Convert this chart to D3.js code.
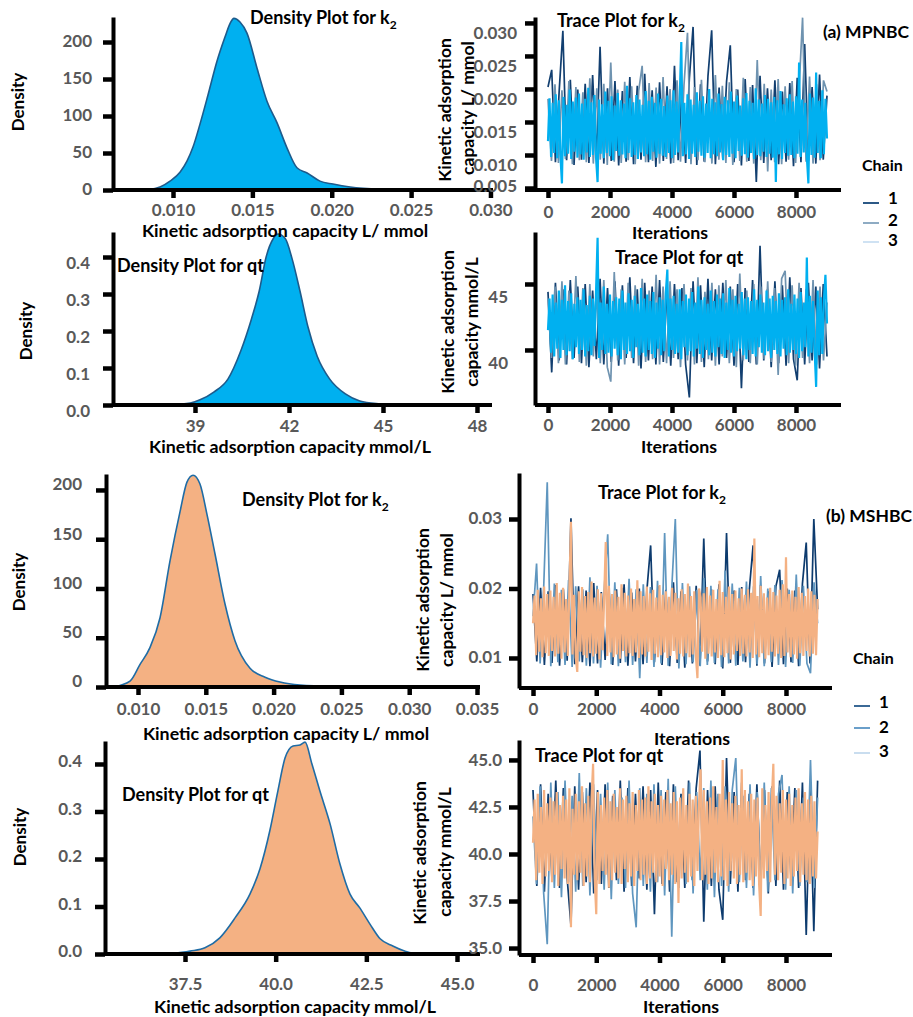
<!DOCTYPE html>
<html>
<head>
<meta charset="utf-8">
<script src="https://cdn.jsdelivr.net/npm/d3@7"></script>
<style>
  body { margin: 0; background: #fff; }
  svg { display: block; }
</style>
</head>
<body>
<svg id="chart" width="913" height="1017"></svg>
<script>
// ---------- Posterior density curves: (value, density) ----------
const densK2A_x = [0.00622, 0.00855, 0.00918, 0.00981, 0.01044, 0.01088, 0.01126, 0.0117, 0.0122, 0.01277, 0.01328, 0.01359, 0.01384, 0.01422, 0.01466, 0.01529, 0.01592, 0.01655, 0.01718, 0.01781, 0.01845, 0.01926, 0.02008, 0.02116, 0.02305, 0.02544];
const densK2A_y = [0, 1, 4, 12, 24, 39, 58, 89, 128, 174, 207, 225, 232, 227, 212, 165, 120, 91, 57, 30, 23, 12, 8, 4, 1, 0];

const densQtA_x = [38.2, 38.85, 39.16, 39.6, 40.05, 40.46, 40.8, 41.05, 41.27, 41.5, 41.65, 41.88, 42.1, 42.35, 42.6, 42.9, 43.3, 43.8, 44.26, 44.9, 45.55];
const densQtA_y = [0, 0.005, 0.014, 0.035, 0.07, 0.146, 0.232, 0.308, 0.40, 0.45, 0.462, 0.45, 0.395, 0.308, 0.213, 0.132, 0.07, 0.03, 0.011, 0.003, 0];

const densK2B_x = [0.00816, 0.00941, 0.01015, 0.01088, 0.01162, 0.01236, 0.0131, 0.01361, 0.01406, 0.01457, 0.01509, 0.01568, 0.01642, 0.01715, 0.01826, 0.01937, 0.02047, 0.02195, 0.0249, 0.02785];
const densK2B_y = [0, 6, 23, 40, 70, 128, 178, 208, 215, 206, 175, 135, 84, 47, 19, 10, 5, 2, 0.5, 0];

const densQtB_x = [37.09, 37.64, 38.05, 38.46, 38.88, 39.29, 39.57, 39.84, 40.06, 40.26, 40.48, 40.67, 40.81, 41.0, 41.22, 41.5, 41.77, 42.05, 42.32, 42.6, 42.88, 43.23, 43.57, 43.98, 44.39];
const densQtB_y = [0, 0.006, 0.013, 0.034, 0.076, 0.126, 0.18, 0.26, 0.343, 0.413, 0.438, 0.44, 0.446, 0.40, 0.343, 0.274, 0.19, 0.126, 0.097, 0.063, 0.032, 0.017, 0.006, 0, 0];

// ---------- MCMC trace chains (evenly spaced draws over 0..9000 iterations) ----------
const iterMax = 9000;
const chainLabels = ["1", "2", "3"];

const traceK2A_chain1 = [0.0203, 0.0229, 0.0089, 0.0196, 0.0288, 0.0092, 0.0214, 0.0085, 0.0199, 0.0093,
 0.0208, 0.0088, 0.0221, 0.0094, 0.0264, 0.0087, 0.0201, 0.0091, 0.0212, 0.0084,
 0.0197, 0.0090, 0.0218, 0.0086, 0.0205, 0.0093, 0.0223, 0.0089, 0.0198, 0.0082,
 0.0210, 0.0091, 0.0204, 0.0087, 0.0235, 0.0092, 0.0200, 0.0088, 0.0216, 0.0294,
 0.0085, 0.0207, 0.0090, 0.0219, 0.0289, 0.0086, 0.0202, 0.0093, 0.0211, 0.0266,
 0.0089, 0.0199, 0.0084, 0.0215, 0.0091, 0.0206, 0.0059, 0.0220, 0.0088, 0.0201,
 0.0092, 0.0213, 0.0086, 0.0196, 0.0090, 0.0209, 0.0083, 0.0217, 0.0089, 0.0268,
 0.0091, 0.0203, 0.0087, 0.0222, 0.0093, 0.0190];
const traceK2A_chain2 = [0.0185, 0.0091, 0.0207, 0.0088, 0.0198, 0.0094, 0.0212, 0.0086, 0.0203, 0.0092,
 0.0195, 0.0089, 0.0216, 0.0087, 0.0201, 0.0093, 0.0208, 0.0085, 0.0240, 0.0090,
 0.0199, 0.0088, 0.0211, 0.0092, 0.0204, 0.0086, 0.0197, 0.0235, 0.0089, 0.0209,
 0.0091, 0.0202, 0.0087, 0.0218, 0.0094, 0.0200, 0.0088, 0.0213, 0.0090, 0.0206,
 0.0285, 0.0086, 0.0203, 0.0092, 0.0214, 0.0089, 0.0198, 0.0087, 0.0221, 0.0093,
 0.0205, 0.0088, 0.0210, 0.0085, 0.0200, 0.0091, 0.0217, 0.0090, 0.0203, 0.0087,
 0.0244, 0.0092, 0.0208, 0.0075, 0.0199, 0.0089, 0.0215, 0.0086, 0.0204, 0.0093,
 0.0212, 0.0088, 0.0201, 0.0308, 0.0090, 0.0219, 0.0087, 0.0207, 0.0092, 0.0213,
 0.0196];
const traceK2A_chain3 = [0.0121, 0.0186, 0.0097, 0.0179, 0.0103, 0.0192, 0.0095, 0.0183, 0.0100, 0.0057,
 0.0188, 0.0098, 0.0176, 0.0102, 0.0199, 0.0094, 0.0181, 0.0105, 0.0187, 0.0096,
 0.0193, 0.0101, 0.0178, 0.0093, 0.0185, 0.0104, 0.0202, 0.0097, 0.0180, 0.0100,
 0.0191, 0.0096, 0.0059, 0.0184, 0.0102, 0.0177, 0.0095, 0.0196, 0.0103, 0.0182,
 0.0098, 0.0189, 0.0092, 0.0175, 0.0106, 0.0194, 0.0099, 0.0183, 0.0101, 0.0178,
 0.0095, 0.0205, 0.0103, 0.0186, 0.0097, 0.0180, 0.0100, 0.0191, 0.0094, 0.0184,
 0.0104, 0.0176, 0.0098, 0.0197, 0.0101, 0.0182, 0.0093, 0.0188, 0.0105, 0.0179,
 0.0096, 0.0193, 0.0102, 0.0185, 0.0099, 0.0174, 0.0097, 0.0190, 0.0103, 0.0183,
 0.0095, 0.0198, 0.0100, 0.0181, 0.0104, 0.0187, 0.0271, 0.0098, 0.0179, 0.0101,
 0.0192, 0.0094, 0.0184, 0.0102, 0.0176, 0.0097, 0.0195, 0.0105, 0.0182, 0.0099,
 0.0189, 0.0096, 0.0178, 0.0103, 0.0200, 0.0095, 0.0185, 0.0101, 0.0180, 0.0098,
 0.0193, 0.0104, 0.0177, 0.0092, 0.0188, 0.0100, 0.0183, 0.0097, 0.0196, 0.0102,
 0.0181, 0.0095, 0.0190, 0.0106, 0.0175, 0.0099, 0.0186, 0.0101, 0.0194, 0.0096,
 0.0182, 0.0103, 0.0179, 0.0094, 0.0201, 0.0100, 0.0184, 0.0098, 0.0178, 0.0105,
 0.0191, 0.0097, 0.0185, 0.0102, 0.0180, 0.0096, 0.0188, 0.0059, 0.0183, 0.0101,
 0.0197, 0.0094, 0.0177, 0.0103, 0.0186, 0.0099, 0.0192, 0.0100, 0.0181, 0.0095,
 0.0189, 0.0102, 0.0240, 0.0097, 0.0184, 0.0104, 0.0179, 0.0098, 0.0057, 0.0193,
 0.0100, 0.0187, 0.0096, 0.0225, 0.0103, 0.0182, 0.0095, 0.0198, 0.0101, 0.0185,
 0.0125];

const traceQtA_chain1 = [44.4, 38.3, 45.1, 39.2, 44.6, 38.9, 45.3, 39.4, 44.8, 39.0,
 45.0, 38.7, 44.5, 39.3, 45.4, 38.9, 44.7, 39.1, 45.2, 38.8,
 44.9, 39.4, 45.5, 39.0, 44.6, 38.6, 45.1, 39.2, 44.8, 38.9,
 45.3, 39.1, 44.5, 38.8, 45.0, 39.3, 44.7, 38.9, 36.4, 45.2,
 39.0, 44.9, 38.7, 45.4, 39.2, 44.6, 38.9, 45.1, 39.4, 44.8,
 38.8, 45.0, 37.1, 44.7, 39.1, 45.3, 38.9, 47.9, 39.2, 44.6,
 38.7, 45.2, 39.0, 44.9, 38.8, 45.5, 39.3, 37.7, 44.7, 38.9,
 45.1, 39.2, 44.8, 38.6, 45.0, 39.5];
const traceQtA_chain2 = [43.9, 39.4, 44.8, 39.0, 45.2, 38.9, 44.5, 39.3, 45.6, 39.1,
 44.7, 38.8, 45.0, 39.5, 44.4, 39.0, 45.3, 38.7, 37.6, 45.9,
 39.2, 44.6, 38.9, 45.1, 39.4, 44.9, 38.8, 45.4, 39.1, 44.5,
 39.3, 45.7, 38.9, 44.8, 39.0, 45.2, 39.4, 44.6, 38.7, 45.0,
 39.2, 44.7, 38.9, 45.5, 39.1, 44.4, 39.3, 45.1, 38.8, 44.9,
 39.5, 45.3, 39.0, 44.6, 38.7, 45.8, 39.2, 44.5, 39.0, 45.0,
 38.9, 44.8, 39.3, 45.2, 39.1, 44.7, 38.1, 45.4, 46.0, 39.0,
 44.9, 38.8, 45.1, 39.4, 44.6, 39.0, 45.3, 38.9, 44.8, 39.2,
 43.6];
const traceQtA_chain3 = [41.5, 43.9, 39.8, 44.2, 39.5, 43.6, 40.1, 44.5, 39.4, 43.8,
 40.0, 44.9, 39.6, 43.7, 39.9, 44.3, 39.3, 43.5, 40.2, 44.0,
 39.7, 43.8, 40.0, 44.6, 39.5, 43.4, 39.9, 44.1, 39.6, 43.9,
 40.3, 44.4, 48.5, 39.4, 43.6, 40.0, 44.8, 39.7, 43.5, 39.8,
 44.2, 39.5, 43.7, 40.1, 44.0, 39.6, 43.9, 39.3, 44.5, 40.0,
 43.6, 39.7, 44.3, 39.9, 43.8, 39.4, 44.1, 40.2, 43.5, 39.6,
 44.7, 39.8, 43.9, 39.5, 44.2, 40.0, 43.7, 39.7, 44.4, 39.4,
 43.6, 40.1, 44.0, 39.6, 43.8, 39.9, 44.3, 46.1, 39.5, 43.9,
 40.0, 44.1, 39.7, 43.5, 39.8, 44.6, 39.3, 43.7, 40.2, 44.2,
 39.6, 43.9, 39.9, 44.4, 39.5, 43.6, 40.1, 44.8, 39.7, 43.8,
 39.4, 44.0, 40.0, 43.5, 39.6, 44.5, 39.8, 43.7, 39.5, 44.2,
 40.2, 43.9, 39.7, 44.3, 39.4, 43.6, 40.0, 44.7, 39.8, 43.8,
 39.5, 44.1, 39.9, 43.5, 40.1, 44.4, 39.6, 43.9, 39.3, 44.0,
 40.0, 43.7, 39.7, 44.6, 39.5, 43.8, 40.2, 44.2, 39.8, 43.6,
 39.6, 44.5, 39.9, 43.9, 39.4, 44.1, 40.0, 43.7, 39.7, 44.3,
 39.5, 43.8, 40.1, 44.0, 39.6, 44.6, 39.8, 43.5, 40.0, 44.2,
 39.7, 43.9, 39.4, 44.4, 39.9, 43.6, 40.2, 47.0, 39.5, 44.1,
 39.8, 43.7, 40.0, 37.2, 44.5, 39.6, 44.0, 39.7, 43.8, 45.7,
 42.0];

const traceK2B_chain1 = [0.0192, 0.0095, 0.0201, 0.0090, 0.0196, 0.0093, 0.0205, 0.0089, 0.0199, 0.0096,
 0.0301, 0.0091, 0.0203, 0.0094, 0.0197, 0.0088, 0.0208, 0.0092, 0.0195, 0.0097,
 0.0202, 0.0090, 0.0199, 0.0093, 0.0206, 0.0089, 0.0194, 0.0095, 0.0200, 0.0091,
 0.0197, 0.0262, 0.0094, 0.0203, 0.0090, 0.0198, 0.0088, 0.0209, 0.0093, 0.0196,
 0.0086, 0.0201, 0.0092, 0.0204, 0.0089, 0.0272, 0.0095, 0.0199, 0.0091, 0.0206,
 0.0085, 0.0280, 0.0093, 0.0197, 0.0090, 0.0202, 0.0094, 0.0198, 0.0262, 0.0089,
 0.0205, 0.0092, 0.0196, 0.0087, 0.0203, 0.0227, 0.0091, 0.0200, 0.0094, 0.0197,
 0.0088, 0.0207, 0.0266, 0.0092, 0.0300, 0.0170];
const traceK2B_chain2 = [0.0160, 0.0236, 0.0092, 0.0201, 0.0353, 0.0088, 0.0207, 0.0094, 0.0198, 0.0090,
 0.0212, 0.0087, 0.0203, 0.0095, 0.0199, 0.0089, 0.0216, 0.0092, 0.0204, 0.0086,
 0.0197, 0.0278, 0.0091, 0.0209, 0.0088, 0.0201, 0.0094, 0.0214, 0.0090, 0.0199,
 0.0071, 0.0206, 0.0093, 0.0202, 0.0087, 0.0211, 0.0092, 0.0280, 0.0089, 0.0200,
 0.0300, 0.0085, 0.0208, 0.0091, 0.0203, 0.0094, 0.0198, 0.0088, 0.0215, 0.0090,
 0.0204, 0.0093, 0.0199, 0.0087, 0.0226, 0.0092, 0.0207, 0.0089, 0.0201, 0.0095,
 0.0210, 0.0086, 0.0203, 0.0091, 0.0218, 0.0088, 0.0200, 0.0094, 0.0205, 0.0090,
 0.0212, 0.0087, 0.0198, 0.0093, 0.0220, 0.0089, 0.0204, 0.0092, 0.0078, 0.0209,
 0.0150];
const traceK2B_chain3 = [0.0150, 0.0190, 0.0104, 0.0198, 0.0109, 0.0186, 0.0101, 0.0203, 0.0107, 0.0192,
 0.0103, 0.0197, 0.0110, 0.0188, 0.0102, 0.0208, 0.0106, 0.0194, 0.0099, 0.0201,
 0.0108, 0.0185, 0.0103, 0.0199, 0.0296, 0.0105, 0.0191, 0.0101, 0.0080, 0.0196,
 0.0109, 0.0202, 0.0104, 0.0189, 0.0100, 0.0195, 0.0107, 0.0210, 0.0102, 0.0187,
 0.0106, 0.0199, 0.0098, 0.0193, 0.0111, 0.0186, 0.0267, 0.0103, 0.0204, 0.0108,
 0.0192, 0.0101, 0.0197, 0.0105, 0.0188, 0.0099, 0.0206, 0.0110, 0.0194, 0.0102,
 0.0190, 0.0107, 0.0200, 0.0103, 0.0185, 0.0108, 0.0212, 0.0100, 0.0196, 0.0105,
 0.0189, 0.0102, 0.0203, 0.0109, 0.0193, 0.0097, 0.0198, 0.0106, 0.0187, 0.0101,
 0.0205, 0.0104, 0.0191, 0.0108, 0.0196, 0.0100, 0.0188, 0.0103, 0.0201, 0.0110,
 0.0194, 0.0098, 0.0186, 0.0106, 0.0199, 0.0102, 0.0192, 0.0107, 0.0207, 0.0101,
 0.0189, 0.0105, 0.0196, 0.0103, 0.0071, 0.0200, 0.0187, 0.0109, 0.0193, 0.0099,
 0.0202, 0.0106, 0.0190, 0.0102, 0.0198, 0.0108, 0.0185, 0.0100, 0.0211, 0.0104,
 0.0195, 0.0101, 0.0188, 0.0107, 0.0203, 0.0098, 0.0192, 0.0105, 0.0197, 0.0110,
 0.0186, 0.0103, 0.0200, 0.0106, 0.0191, 0.0102, 0.0199, 0.0108, 0.0194, 0.0100,
 0.0272, 0.0105, 0.0189, 0.0101, 0.0204, 0.0107, 0.0193, 0.0099, 0.0187, 0.0104,
 0.0201, 0.0109, 0.0195, 0.0102, 0.0190, 0.0106, 0.0198, 0.0100, 0.0206, 0.0103,
 0.0245, 0.0108, 0.0192, 0.0101, 0.0197, 0.0105, 0.0188, 0.0099, 0.0202, 0.0107,
 0.0194, 0.0103, 0.0189, 0.0110, 0.0200, 0.0102, 0.0196, 0.0106, 0.0191, 0.0104,
 0.0185];

const traceQtB_chain1 = [43.4, 38.3, 43.7, 38.0, 43.2, 38.6, 43.9, 38.2, 43.5, 38.7,
 36.2, 43.6, 38.1, 43.3, 38.5, 43.8, 37.9, 43.4, 38.4, 43.7,
 38.2, 43.1, 38.6, 43.9, 38.0, 43.5, 38.3, 43.2, 38.7, 43.6,
 38.1, 43.4, 36.8, 43.8, 38.4, 43.3, 38.0, 43.7, 38.5, 43.2,
 38.2, 43.9, 38.6, 43.5, 45.5, 36.4, 43.4, 38.3, 43.6, 38.1,
 36.5, 45.1, 38.4, 43.3, 38.0, 43.8, 38.6, 43.2, 38.2, 43.7,
 38.5, 43.4, 37.9, 43.6, 38.3, 43.9, 38.1, 43.3, 38.6, 43.5,
 38.2, 43.8, 35.7, 43.4, 35.9, 43.9];
const traceQtB_chain2 = [42.0, 38.4, 43.6, 37.9, 35.2, 43.8, 38.2, 43.3, 37.7, 43.9,
 38.5, 43.1, 38.0, 44.3, 38.3, 43.5, 37.8, 43.7, 38.6, 43.2,
 38.1, 43.8, 37.6, 43.4, 38.4, 43.0, 38.2, 43.9, 37.9, 36.1,
 43.5, 38.3, 43.2, 38.0, 43.7, 38.5, 43.4, 37.8, 44.0, 35.6,
 43.6, 38.2, 43.1, 38.4, 43.8, 37.9, 43.3, 38.6, 43.5, 38.1,
 43.9, 37.7, 43.2, 38.3, 43.6, 38.0, 43.4, 45.1, 38.5, 43.1,
 38.2, 43.7, 37.8, 43.3, 38.4, 43.8, 38.0, 43.5, 38.6, 43.2,
 44.2, 38.1, 43.6, 37.9, 43.4, 38.3, 43.0, 38.5, 45.0, 38.2,
 43.0];
const traceQtB_chain3 = [40.6, 42.9, 38.6, 43.2, 39.0, 42.5, 38.4, 43.4, 38.8, 42.7,
 39.1, 43.0, 38.5, 42.8, 38.9, 43.3, 38.3, 42.6, 39.2, 43.1,
 38.7, 42.9, 38.4, 43.5, 36.1, 42.4, 38.9, 43.2, 38.6, 42.8,
 39.0, 43.6, 38.3, 42.7, 38.8, 43.1, 38.5, 42.9, 44.8, 38.7,
 36.8, 43.3, 38.4, 42.6, 39.1, 43.0, 38.9, 43.4, 38.2, 42.8,
 38.6, 43.2, 39.0, 42.5, 38.7, 43.5, 38.4, 42.9, 39.2, 43.1,
 38.5, 42.7, 38.8, 43.3, 38.3, 42.6, 39.1, 43.4, 38.6, 42.9,
 38.9, 43.0, 38.4, 43.6, 38.7, 42.8, 39.0, 43.2, 38.5, 42.6,
 38.8, 43.1, 38.3, 42.9, 39.2, 43.4, 38.6, 42.7, 38.9, 43.3,
 38.4, 42.8, 37.4, 43.0, 38.7, 43.5, 39.0, 42.6, 38.5, 43.2,
 38.8, 42.9, 38.3, 43.1, 39.1, 42.7, 44.5, 38.6, 43.4, 38.9,
 42.8, 38.4, 43.0, 38.7, 43.6, 39.0, 42.5, 38.5, 43.2, 38.8,
 45.0, 38.6, 42.9, 38.3, 43.3, 39.1, 42.7, 38.7, 43.1, 38.4,
 42.6, 38.9, 44.5, 38.5, 43.4, 39.0, 42.8, 38.6, 43.2, 38.3,
 42.9, 38.8, 43.0, 38.4, 36.7, 43.5, 38.7, 42.6, 39.1, 43.3,
 38.5, 42.8, 44.8, 38.9, 43.1, 38.6, 42.7, 39.0, 43.4, 38.4,
 42.9, 38.7, 43.2, 38.3, 42.6, 38.8, 43.0, 39.1, 43.5, 38.5,
 42.7, 38.9, 43.3, 38.6, 42.9, 38.4, 43.1, 38.8, 42.8, 38.7,
 41.2];

// ---------- Tick values ----------
const ticksK2A_x = [0.010, 0.015, 0.020, 0.025, 0.030];
const ticksK2A_y = [0, 50, 100, 150, 200];
const ticksQtA_x = [39, 42, 45, 48];
const ticksQtA_y = [0.0, 0.1, 0.2, 0.3, 0.4];
const ticksIter = [0, 2000, 4000, 6000, 8000];
const ticksTraceK2A_y = [0.005, 0.010, 0.015, 0.020, 0.025, 0.030];
const ticksTraceQtA_y = [40, 45];
const ticksK2B_x = [0.010, 0.015, 0.020, 0.025, 0.030, 0.035];
const ticksK2B_y = [0, 50, 100, 150, 200];
const ticksQtB_x = [37.5, 40.0, 42.5, 45.0];
const ticksQtB_y = [0.0, 0.1, 0.2, 0.3, 0.4];
const ticksTraceK2B_y = [0.01, 0.02, 0.03];
const ticksTraceQtB_y = [35.0, 37.5, 40.0, 42.5, 45.0];

// ---------- Drawing ----------
const FONT = "Lato, 'Open Sans', 'DejaVu Sans', sans-serif";
const TICK_GRAY = "#595959";
const TICK_SIZE = 17;
const TITLE_SIZE = 18;
const LABEL_SIZE = 17.8;
const svg = d3.select("#chart").attr("font-family", FONT);
svg.append("rect").attr("width", 913).attr("height", 1017).attr("fill", "#fff");

function styleAxis(g) {
  g.attr("font-family", FONT).attr("font-size", TICK_SIZE).attr("font-weight", "bold");
  g.select(".domain").attr("stroke", "#000").attr("stroke-width", 4);
  g.selectAll(".tick line").attr("stroke", "#000").attr("stroke-width", 4.5);
  g.selectAll(".tick text").attr("fill", TICK_GRAY);
}

function drawAxes(o) {
  const { x, y } = o;
  const xa = svg.append("g")
    .attr("transform", `translate(0,${o.xAxisY})`)
    .call(d3.axisBottom(x).tickValues(o.xTicks).tickFormat(o.xFmt).tickSize(8).tickSizeOuter(0));
  styleAxis(xa);
  xa.select(".domain").attr("d", `M${o.xAxisStart ?? x.range()[0]},0H${x.range()[1]}`);
  xa.selectAll(".tick text").attr("y", o.xLabOff).attr("dy", "0.35em");
  const ya = svg.append("g")
    .attr("transform", `translate(${o.yAxisX},0)`)
    .call(d3.axisLeft(y).tickValues(o.yTicks).tickFormat(o.yFmt).tickSize(10).tickSizeOuter(0));
  styleAxis(ya);
  const dyOf = typeof o.yLabDy === "function" ? o.yLabDy : () => o.yLabDy;
  ya.selectAll(".tick text").attr("x", -o.yLabGap).attr("dy", "0.35em")
    .attr("transform", d => `translate(0,${dyOf(d)})`);
}

function title(x, y, main, sub) {
  const t = svg.append("text").attr("x", x).attr("y", y)
    .attr("font-size", TITLE_SIZE).attr("font-weight", "bold").attr("fill", "#000").text(main);
  if (sub) t.append("tspan").attr("dy", 5).attr("font-size", 12).text(sub);
}

function hText(x, y, str, size = LABEL_SIZE) {
  svg.append("text").attr("x", x).attr("y", y).attr("dy", "0.35em")
    .attr("text-anchor", "middle").attr("font-size", size).attr("font-weight", "bold")
    .attr("fill", "#000").text(str);
}

function vText(x, y, str, size = 17.5) {
  svg.append("text").attr("transform", `translate(${x},${y}) rotate(-90)`)
    .attr("dy", "0.35em").attr("text-anchor", "middle")
    .attr("font-size", size).attr("font-weight", "bold").attr("fill", "#000").text(str);
}

function drawDensity(o) {
  const pts = o.xs.map((v, i) => [v, o.ys[i]]);
  const area = d3.area().x(d => o.x(d[0])).y0(o.y(0)).y1(d => o.y(d[1])).curve(d3.curveMonotoneX);
  const line = d3.line().x(d => o.x(d[0])).y(d => o.y(d[1])).curve(d3.curveMonotoneX);
  svg.append("path").datum(pts).attr("d", area).attr("fill", o.fill);
  svg.append("path").datum(pts).attr("d", line).attr("fill", "none")
    .attr("stroke", o.stroke).attr("stroke-width", 1.6);
}

function drawTrace(o) {
  o.chains.forEach((vals, c) => {
    const step = iterMax / (vals.length - 1);
    const line = d3.line().x((d, i) => o.x(i * step)).y(d => o.y(d));
    svg.append("path").datum(vals).attr("d", line).attr("fill", "none")
      .attr("stroke", o.colors[c]).attr("stroke-width", c === 2 ? 2.2 : 1.7)
      .attr("stroke-linejoin", "bevel");
  });
}

function drawLegend(x, yTitle, rows, colors) {
  svg.append("text").attr("x", x).attr("y", yTitle).attr("font-size", 16)
    .attr("font-weight", "bold").attr("fill", "#000").text("Chain");
  rows.forEach((r, i) => {
    svg.append("line").attr("x1", x + 1).attr("x2", x + 17)
      .attr("y1", r.ly).attr("y2", r.ly).attr("stroke", colors[i]).attr("stroke-width", 2);
    svg.append("text").attr("x", x + 26).attr("y", r.ty).attr("font-size", 17)
      .attr("font-weight", "bold").attr("fill", "#000").text(chainLabels[i]);
  });
}

const fmt3 = d3.format(".3f"), fmt2 = d3.format(".2f"), fmt1 = d3.format(".1f"), fmtD = d3.format("d");

// ---- (a) MPNBC : density of k2 ----
{
  const x = d3.scaleLinear().domain([0.00622, 0.03016]).range([113, 493]);
  const y = d3.scaleLinear().domain([0, 233.8]).range([190, 17]);
  drawDensity({ x, y, xs: densK2A_x, ys: densK2A_y, fill: "#00b0f0", stroke: "#1d5b8c" });
  drawAxes({ x, y, xAxisY: 190, xTicks: ticksK2A_x, xFmt: fmt3, xLabOff: 20,
             yAxisX: 113, yTicks: ticksK2A_y, yFmt: fmtD, yLabGap: 21, yLabDy: -1 });
  title(250, 24, "Density Plot for k", "2");
  vText(18, 102, "Density", 17);
}
// ---- (a) MPNBC : density of qt ----
{
  const x = d3.scaleLinear().domain([36.383, 48.479]).range([113, 492]);
  const y = d3.scaleLinear().domain([0, 0.4676]).range([405, 232]);
  drawDensity({ x, y, xs: densQtA_x, ys: densQtA_y, fill: "#00b0f0", stroke: "#1d5b8c" });
  drawAxes({ x, y, xAxisY: 405, xTicks: ticksQtA_x, xFmt: fmtD, xLabOff: 21,
             yAxisX: 113, yTicks: ticksQtA_y, yFmt: fmt1, yLabGap: 23, yLabDy: 6 });
  title(117, 272, "Density Plot for qt");
  vText(26, 331, "Density", 17);
  hText(290, 447, "Kinetic adsorption capacity mmol/L");
}
hText(285, 231, "Kinetic adsorption capacity L/ mmol");

// ---- (a) MPNBC : trace of k2 ----
{
  const x = d3.scaleLinear().domain([-419, 9452]).range([535, 841]);
  const y = d3.scaleLinear().domain([0.0047, 0.0309]).range([190, 17]);
  drawTrace({ x, y, chains: [traceK2A_chain1, traceK2A_chain2, traceK2A_chain3],
              colors: ["#123f70", "#6f93b0", "#00b0f0"] });
  drawAxes({ x, y, xAxisY: 190, xAxisStart: 525, xTicks: ticksIter, xFmt: fmtD, xLabOff: 22,
             yAxisX: 535, yTicks: ticksTraceK2A_y, yFmt: fmt3, yLabGap: 18,
             yLabDy: d => (d < 0.006 ? -2 : 10) });
  title(557, 27, "Trace Plot for k", "2");
  vText(445, 110, "Kinetic adsorption");
  vText(468, 108, "capacity L/ mmol");
  hText(670, 233, "Iterations");
}
// ---- (a) MPNBC : trace of qt ----
{
  const x = d3.scaleLinear().domain([-419, 9452]).range([535, 841]);
  const y = d3.scaleLinear().domain([35.83, 48.94]).range([405, 232]);
  drawTrace({ x, y, chains: [traceQtA_chain1, traceQtA_chain2, traceQtA_chain3],
              colors: ["#123f70", "#6f93b0", "#00b0f0"] });
  drawAxes({ x, y, xAxisY: 405, xTicks: ticksIter, xFmt: fmtD, xLabOff: 20,
             yAxisX: 535, yTicks: ticksTraceQtA_y, yFmt: fmtD, yLabGap: 27, yLabDy: 13 });
  title(615, 264, "Trace Plot for qt");
  vText(448, 322, "Kinetic adsorption");
  vText(472, 322, "capacity mmol/L");
  hText(679, 447, "Iterations");
}
svg.append("text").attr("x", 823).attr("y", 38).attr("font-size", 17.5)
  .attr("font-weight", "bold").attr("fill", "#000").text("(a) MPNBC");
drawLegend(862, 171, [{ ly: 203, ty: 204 }, { ly: 223, ty: 226 }, { ly: 242, ty: 246 }],
           ["#2c5986", "#8eabc3", "#cfe2f3"]);

// ---- (b) MSHBC : density of k2 ----
{
  const x = d3.scaleLinear().domain([0.00764, 0.03522]).range([106, 480]);
  const y = d3.scaleLinear().domain([0, 216.2]).range([687, 474]);
  drawDensity({ x, y, xs: densK2B_x, ys: densK2B_y, fill: "#f4b183", stroke: "#1f6ca5" });
  drawAxes({ x, y, xAxisY: 687, xTicks: ticksK2B_x, xFmt: fmt3, xLabOff: 22,
             yAxisX: 106, yTicks: ticksK2B_y, yFmt: fmtD, yLabGap: 24, yLabDy: -6 });
  title(242, 506, "Density Plot for k", "2");
  vText(19, 582, "Density", 17);
  hText(286, 734, "Kinetic adsorption capacity L/ mmol");
}
// ---- (b) MSHBC : density of qt ----
{
  const x = d3.scaleLinear().domain([35.294, 45.634]).range([105, 480]);
  const y = d3.scaleLinear().domain([0, 0.4484]).range([954, 741]);
  drawDensity({ x, y, xs: densQtB_x, ys: densQtB_y, fill: "#f4b183", stroke: "#1f6ca5" });
  drawAxes({ x, y, xAxisY: 954, xTicks: ticksQtB_x, xFmt: fmt1, xLabOff: 30,
             yAxisX: 105, yTicks: ticksQtB_y, yFmt: fmt1, yLabGap: 23, yLabDy: -3 });
  title(122, 801, "Density Plot for qt");
  vText(20, 837, "Density", 17);
  hText(295, 1007, "Kinetic adsorption capacity mmol/L");
}
// ---- (b) MSHBC : trace of k2 ----
{
  const x = d3.scaleLinear().domain([-443, 9455]).range([519, 832]);
  const y = d3.scaleLinear().domain([0.00568, 0.03662]).range([688, 473]);
  drawTrace({ x, y, chains: [traceK2B_chain1, traceK2B_chain2, traceK2B_chain3],
              colors: ["#0d3b6e", "#5f96bf", "#f4b183"] });
  drawAxes({ x, y, xAxisY: 688, xTicks: ticksIter, xFmt: fmtD, xLabOff: 21,
             yAxisX: 519, yTicks: ticksTraceK2B_y, yFmt: fmt2, yLabGap: 17, yLabDy: -1 });
  title(598, 499, "Trace Plot for k", "2");
  vText(423, 600, "Kinetic adsorption");
  vText(447, 600, "capacity L/ mmol");
  hText(692, 739, "Iterations");
}
// ---- (b) MSHBC : trace of qt ----
{
  const x = d3.scaleLinear().domain([-443, 9455]).range([519, 832]);
  const y = d3.scaleLinear().domain([34.63, 46.06]).range([955, 740]);
  drawTrace({ x, y, chains: [traceQtB_chain1, traceQtB_chain2, traceQtB_chain3],
              colors: ["#0d3b6e", "#5f96bf", "#f4b183"] });
  drawAxes({ x, y, xAxisY: 955, xTicks: ticksIter, xFmt: fmtD, xLabOff: 30,
             yAxisX: 519, yTicks: ticksTraceQtB_y, yFmt: fmt1, yLabGap: 17, yLabDy: 0 });
  title(535, 762, "Trace Plot for qt");
  vText(420, 853, "Kinetic adsorption");
  vText(445, 852, "capacity mmol/L");
  hText(681, 1007, "Iterations");
}
svg.append("text").attr("x", 826).attr("y", 522).attr("font-size", 17.5)
  .attr("font-weight", "bold").attr("fill", "#000").text("(b) MSHBC");
drawLegend(853, 664, [{ ly: 706, ty: 708 }, { ly: 728, ty: 733 }, { ly: 753, ty: 757 }],
           ["#3b6996", "#6a9fca", "#c9ddef"]);
</script>
</body>
</html>
